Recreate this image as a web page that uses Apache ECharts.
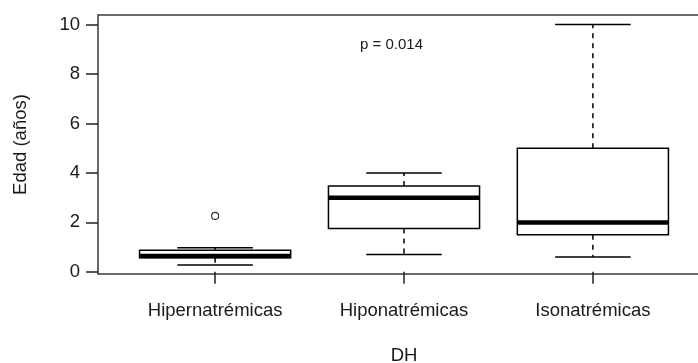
<!DOCTYPE html>
<html>
<head>
<meta charset="utf-8">
<script src="https://cdn.jsdelivr.net/npm/echarts@6/dist/echarts.min.js"></script>
<style>html,body{margin:0;padding:0;background:#fff;}#c{width:698px;height:363px;}</style>
</head>
<body>
<div id="c"></div>
<script>
const categories = ['Hipernatrémicas', 'Hiponatrémicas', 'Isonatrémicas'];
const mins = [0.28, 0.7, 0.6];
const q1s = [0.57, 1.75, 1.5];
const medians = [0.64, 3.0, 2.0];
const q3s = [0.87, 3.47, 5.0];
const maxs = [0.975, 4.0, 10.0];
const outliers = [[1, 2.26]];
const yTicks = [0, 2, 4, 6, 8, 10];
const xTicks = [1, 2, 3];
const annotation = 'p = 0.014';

const FONT = '"Liberation Sans", Arial, Helvetica, sans-serif';
const INK = '#1a1a1a';

const boxData = categories.map((c, i) => [i + 1, mins[i], q1s[i], medians[i], q3s[i], maxs[i]]);

const chart = echarts.init(document.getElementById('c'), null, {renderer: 'canvas'});
chart.setOption({
  animation: false,
  backgroundColor: '#fff',
  title: {
    text: annotation,
    left: 360, top: 37, padding: 0,
    textStyle: {fontFamily: FONT, fontSize: 15, fontWeight: 'normal', color: INK}
  },
  grid: {
    left: 98, top: 15, width: 612, height: 259,
    containLabel: false, outerBoundsMode: 'none',
    show: true, borderColor: '#3a3a3a', borderWidth: 1.5, backgroundColor: 'transparent'
  },
  xAxis: {
    type: 'value', min: 0.38, max: 3.62,
    name: 'DH', nameLocation: 'middle', nameGap: 72,
    nameTextStyle: {fontFamily: FONT, fontSize: 18.5, color: INK},
    axisLine: {show: false},
    splitLine: {show: false},
    axisTick: {show: true, customValues: xTicks, length: 12, lineStyle: {color: '#222', width: 1.5}},
    axisLabel: {
      customValues: xTicks, margin: 27,
      fontFamily: FONT, fontSize: 18.5, color: INK,
      formatter: v => categories[Math.round(v) - 1] || ''
    }
  },
  yAxis: {
    type: 'value', min: -0.088, max: 10.388,
    name: 'Edad (años)', nameLocation: 'middle', nameGap: 68,
    nameTextStyle: {fontFamily: FONT, fontSize: 18.5, color: INK},
    axisLine: {show: false},
    splitLine: {show: false},
    axisTick: {show: true, customValues: yTicks, length: 12, lineStyle: {color: '#222', width: 1.5}},
    axisLabel: {customValues: yTicks, margin: 18, fontFamily: FONT, fontSize: 18.5, color: INK}
  },
  series: [
    {
      type: 'custom',
      data: boxData,
      encode: {x: 0, y: [1, 2, 3, 4, 5]},
      renderItem: function (params, api) {
        const x = api.value(0);
        const bw = api.size([0.8, 0])[0];
        const sw = api.size([0.4, 0])[0];
        const pMin = api.coord([x, api.value(1)]);
        const pQ1 = api.coord([x, api.value(2)]);
        const pMed = api.coord([x, api.value(3)]);
        const pQ3 = api.coord([x, api.value(4)]);
        const pMax = api.coord([x, api.value(5)]);
        const cx = pMed[0];
        const solid = {stroke: '#000', lineWidth: 1.5, fill: null};
        const dashed = {stroke: '#000', lineWidth: 1.5, lineDash: [5, 5], fill: null};
        return {
          type: 'group',
          children: [
            {type: 'line', shape: {x1: cx, y1: pQ3[1], x2: cx, y2: pMax[1]}, style: dashed},
            {type: 'line', shape: {x1: cx, y1: pQ1[1], x2: cx, y2: pMin[1]}, style: dashed},
            {type: 'line', shape: {x1: cx - sw / 2, y1: pMax[1], x2: cx + sw / 2, y2: pMax[1]}, style: solid},
            {type: 'line', shape: {x1: cx - sw / 2, y1: pMin[1], x2: cx + sw / 2, y2: pMin[1]}, style: solid},
            {type: 'rect', shape: {x: cx - bw / 2, y: pQ3[1], width: bw, height: pQ1[1] - pQ3[1]},
              style: {stroke: '#000', lineWidth: 1.5, fill: '#fff'}},
            {type: 'line', shape: {x1: cx - bw / 2, y1: pMed[1], x2: cx + bw / 2, y2: pMed[1]},
              style: {stroke: '#000', lineWidth: 4.5}}
          ]
        };
      }
    },
    {
      type: 'scatter',
      data: outliers,
      symbol: 'circle',
      symbolSize: 7,
      itemStyle: {color: '#fff', borderColor: '#000', borderWidth: 1.2}
    }
  ]
});
</script>
</body>
</html>
